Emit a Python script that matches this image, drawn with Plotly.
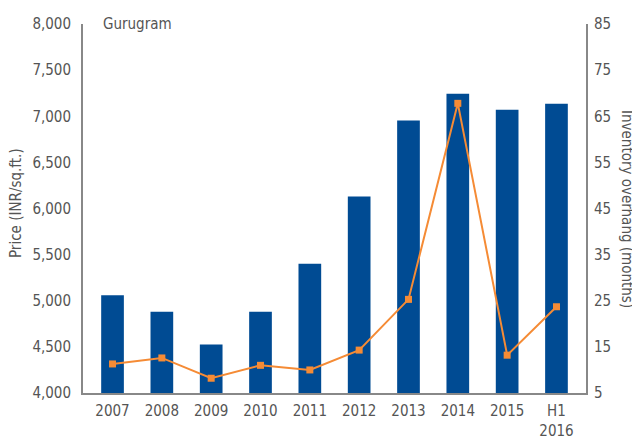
import plotly.graph_objects as go

# data
years = ['2007', '2008', '2009', '2010', '2011', '2012', '2013', '2014', '2015', 'H1<br>2016']
price = [5060, 4880, 4525, 4880, 5400, 6130, 6955, 7245, 7070, 7135]
overhang = [11.3, 12.6, 8.2, 11.0, 10.0, 14.3, 25.3, 67.8, 13.2, 23.7]

font_name = 'Liberation Sans Narrow, DejaVu Sans Condensed, Arial Narrow, sans-serif'
grey = '#555555'

# the page body has an 8px margin, so shift margins to land the plot area
# at x 83..586, y 24..393 on screen
OFF = 8
L, R, T, B = 83 - OFF, 54 + OFF, 24 - OFF, 46 + OFF
plot_w = 640 - L - R
plot_h = 439 - T - B


def px_y(screen_y):
    # screen y (px) -> paper fraction
    return (439 - B - (screen_y - OFF)) / plot_h


bars = go.Bar(x=years, y=price, marker=dict(color='#004B93', line=dict(width=0)),
              name='Price', yaxis='y')
line = go.Scatter(x=years, y=overhang, mode='lines+markers', yaxis='y2',
                  line=dict(color='#F58B35', width=2),
                  marker=dict(symbol='square', size=7, color='#F58B35'),
                  name='Inventory overhang')

layout = go.Layout(
    width=640, height=439,
    margin=dict(l=L, r=R, t=T, b=B, autoexpand=False),
    plot_bgcolor='white', paper_bgcolor='white',
    showlegend=False, bargap=0.54,
    font=dict(family=font_name, color=grey, size=15),
    xaxis=dict(showline=True, linecolor='#888888', linewidth=2, ticks='',
               showgrid=False, automargin=False, ticklabelstandoff=3),
    yaxis=dict(range=[4000, 8000], dtick=500, tickformat=',', showline=True,
               linecolor='#888888', linewidth=2, showgrid=False, zeroline=False,
               ticks='', automargin=False, ticklabelstandoff=7),
    yaxis2=dict(range=[5, 85], tick0=5, dtick=10, overlaying='y', side='right',
                showline=True, linecolor='#888888', linewidth=2, showgrid=False,
                zeroline=False, ticks='', automargin=False, ticklabelstandoff=3),
    annotations=[
        dict(text='Price (INR/sq.ft.)', x=-78 / plot_w, y=px_y(203),
             xref='paper', yref='paper', showarrow=False, textangle=-90),
        dict(text='Gurugram', x=18 / plot_w, y=px_y(24), xref='paper', yref='paper',
             xanchor='left', yanchor='middle', showarrow=False),
        dict(text='Inventory overhang (months)', x=1 + 52 / plot_w,
             y=px_y(209), xref='paper', yref='paper',
             showarrow=False, textangle=90),
    ],
)

fig = go.Figure(data=[bars, line], layout=layout)
fig.write_html('out.html')
